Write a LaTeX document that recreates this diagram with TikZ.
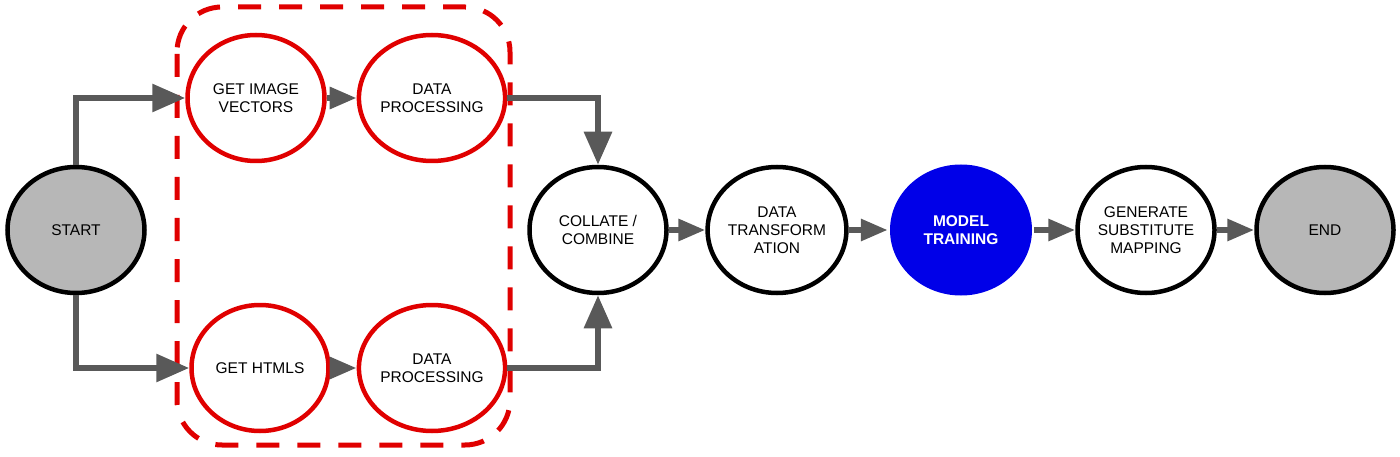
\documentclass[tikz,border=0pt]{standalone}
\usepackage{fontspec}
\setmainfont{Liberation Sans}
\usetikzlibrary{shapes.geometric,arrows.meta}
\definecolor{arrowgray}{RGB}{89,89,89}
\definecolor{fillgray}{RGB}{183,183,183}
\definecolor{boxred}{RGB}{224,0,0}
\definecolor{nodeblue}{RGB}{0,0,232}
\tikzset{
  stage/.style={ellipse, draw=black, line width=4.5pt, minimum width=137pt, minimum height=126pt,
    inner sep=0pt, align=center, font=\fontsize{15.5}{18}\selectfont},
  redstage/.style={stage, draw=boxred, line width=4.5pt},
  termstage/.style={stage, fill=fillgray},
  bluestage/.style={stage, draw=none, fill=nodeblue, minimum width=142pt, minimum height=131pt, text=white, font=\fontsize{15.5}{18}\selectfont\bfseries},
  bigarrow/.style={draw=arrowgray, line width=6pt, -{Triangle[length=33pt,width=27pt]}},
  smallarrow/.style={draw=arrowgray, line width=6pt, -{Triangle[length=27pt,width=21pt]}},
  groupbox/.style={draw=boxred, line width=5pt, dash pattern=on 23pt off 18pt, dash phase=-2pt, rounded corners=45pt}
}
\begin{document}
\begin{tikzpicture}[x=1pt,y=-1pt]
\useasboundingbox (0,0) rectangle (1400,457);
\draw[groupbox] (177,7) rectangle (510,445);
\node[termstage] (start) at (76,230) {START};
\node[redstage] (imgvec) at (256,98) {GET IMAGE\\VECTORS};
\node[redstage] (dp1) at (432,98) {DATA\\PROCESSING};
\node[redstage] (html) at (260,368) {GET HTMLS};
\node[redstage] (dp2) at (432,368) {DATA\\PROCESSING};
\node[stage] (collate) at (598,230) {COLLATE /\\COMBINE};
\node[stage] (transf) at (777,230) {DATA\\TRANSFORM\\ATION};
\node[bluestage] (model) at (961,230) {MODEL\\TRAINING};
\node[stage] (gen) at (1146,230) {GENERATE\\SUBSTITUTE\\MAPPING};
\node[termstage] (end) at (1325,230) {END};
\draw[bigarrow] (start.north) |- (imgvec.west);
\draw[bigarrow] (start.south) |- (html.west);
\draw[smallarrow] (imgvec.east) -- (dp1.west);
\draw[smallarrow] (html.east) -- (dp2.west);
\draw[bigarrow] (dp1.east) -| (collate.north);
\draw[bigarrow] (dp2.east) -| (collate.south);
\draw[smallarrow] (collate.east) -- (transf.west);
\draw[smallarrow] (transf.east) -- (model.west);
\draw[smallarrow] (model.east) -- (gen.west);
\draw[smallarrow] (gen.east) -- (end.west);
\end{tikzpicture}
\end{document}
